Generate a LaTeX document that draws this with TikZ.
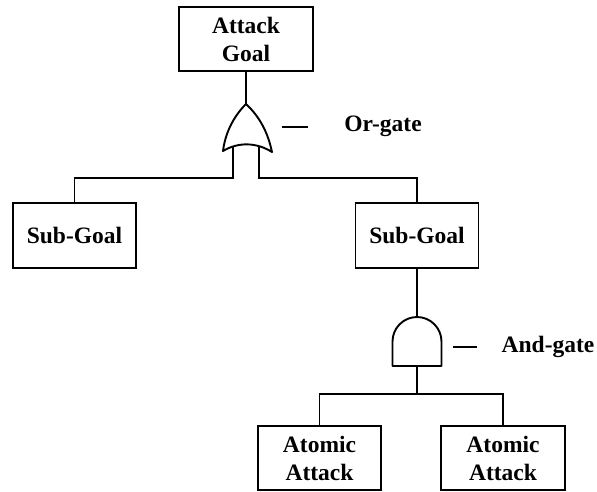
\documentclass[tikz,border=0pt]{standalone}
\usepackage{fontspec}
\setmainfont{Liberation Serif}
\begin{document}
\begin{tikzpicture}[x=1pt,y=-1pt,line width=1.9pt,
  treebox/.style={draw,line width=1.9pt,inner sep=0pt,align=center,
    font=\bfseries\fontsize{23.5}{28}\selectfont},
  gatelabel/.style={inner sep=0pt,font=\bfseries\fontsize{23.5}{28}\selectfont},
  gateshape/.style={draw,fill=white,line width=1.9pt,line join=round}]
\useasboundingbox (0,0) rectangle (597,491);

% boxes
\node[treebox,minimum width=134pt,minimum height=64pt] (goal) at (246,39) {Attack\\Goal};
\node[treebox,minimum width=123pt,minimum height=65pt] (subL) at (74.5,235.5) {Sub-Goal};
\node[treebox,minimum width=123pt,minimum height=65pt] (subR) at (417,235.5) {Sub-Goal};
\node[treebox,minimum width=123pt,minimum height=64pt] (atomL) at (319.5,458) {Atomic\\Attack};
\node[treebox,minimum width=124pt,minimum height=64pt] (atomR) at (503,458) {Atomic\\Attack};

% gate terminals
\coordinate (orTop) at (246,104);
\coordinate (orL) at (233,144);
\coordinate (orR) at (259,144);
\coordinate (andTop) at (417,317);
\coordinate (andBot) at (417,366);

% connectors
\draw (goal.south) -- (orTop);
\draw (orL) -- ++(0,34) -| (subL.north);
\draw (orR) -- ++(0,34) -| (subR.north);
\draw (subR.south) -- (andTop);
\draw (andBot) -- ++(0,28) -| (atomL.north);
\draw (andBot) -- ++(0,28) -| (atomR.north);

% or-gate
\draw[gateshape] (orTop) .. controls (232,118) and (225,135) .. (223,151)
  .. controls (238,142) and (256,142) .. (272,152)
  .. controls (268,133) and (260,117) .. (orTop) -- cycle;

% and-gate
\draw[gateshape] (392.5,366) -- (392.5,341.5)
  .. controls (392.5,328) and (403.5,317) .. (andTop)
  .. controls (430.5,317) and (441.5,328) .. (441.5,341.5)
  -- (441.5,366) -- cycle;

% labels
\coordinate (orDashA) at (282,127);
\coordinate (orDashB) at (308,127);
\draw (orDashA) -- (orDashB);
\node[gatelabel] (orText) at (383,126) {Or-gate};
\coordinate (andDashA) at (453,347);
\coordinate (andDashB) at (477,347);
\draw (andDashA) -- (andDashB);
\node[gatelabel] (andText) at (548,347) {And-gate};
\end{tikzpicture}
\end{document}
